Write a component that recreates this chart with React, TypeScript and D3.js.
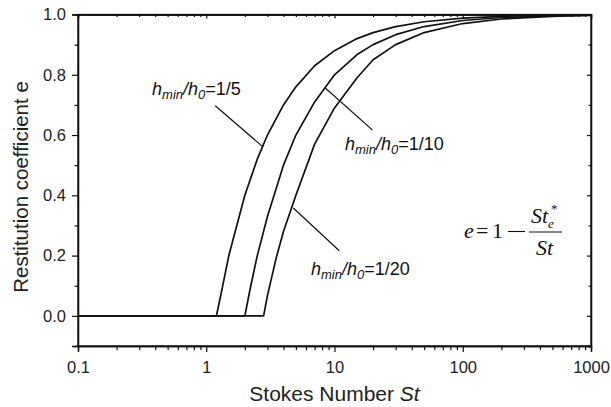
import React, { useRef, useEffect } from 'react';
import * as d3 from 'd3';

// Stokes numbers and restitution coefficient
const stA = [0.1, 1.2, 1.3, 1.5, 2, 2.5, 3, 4, 5, 7, 10, 15, 20, 30, 50, 100, 200, 500, 1000];
const eA = [0, 0, 0.07, 0.2, 0.4, 0.52, 0.6, 0.7, 0.76, 0.83, 0.88, 0.92, 0.94, 0.96, 0.976, 0.988, 0.994, 0.998, 0.999];

const stB = [0.1, 2.0, 2.2, 2.5, 3, 4, 5, 7, 10, 15, 20, 30, 50, 100, 200, 500, 1000];
const eB = [0, 0, 0.09, 0.2, 0.33, 0.5, 0.6, 0.71, 0.8, 0.867, 0.9, 0.933, 0.96, 0.98, 0.99, 0.996, 0.998];

const stC = [0.1, 2.8, 3, 3.5, 4, 5, 7, 10, 15, 20, 30, 50, 100, 200, 500, 1000];
const eC = [0, 0, 0.067, 0.19, 0.28, 0.4, 0.57, 0.69, 0.79, 0.85, 0.9, 0.94, 0.97, 0.985, 0.994, 0.997];

const xTicks = [0.1, 1, 10, 100, 1000];
const xTickLabels = ['0.1', '1', '10', '100', '1000'];
const yTicks = [0, 0.2, 0.4, 0.6, 0.8, 1.0];

const series = [
  { st: stA, e: eA, ratio: '1/5' },
  { st: stB, e: eB, ratio: '1/10' },
  { st: stC, e: eC, ratio: '1/20' },
];

// annotation anchors in data units: [St on curve, e on curve, St at label end, e at label end]
const leaders: [number, number, number, number][] = [
  [2.78, 0.56, 1.176, 0.697],
  [8.47, 0.756, 19.7, 0.617],
  [4.77, 0.358, 10.9, 0.216],
];
// label text start [St, e] (baseline)
const labelPos: [number, number][] = [[0.378, 0.733], [12.08, 0.55], [6.56, 0.136]];

const W = 611, H = 407;
const m = { left: 78, right: 20, top: 14.5, bottom: 61 };
const FONT = '"Liberation Sans", Arial, sans-serif';
const SERIF = '"Liberation Serif", "Times New Roman", serif';

export default function App() {
  const svgRef = useRef<SVGSVGElement>(null);

  useEffect(() => {
    const svg = d3.select(svgRef.current);
    svg.selectAll('*').remove();

    const x = d3.scaleLog().domain([0.1, 1000]).range([m.left, W - m.right]);
    const y = d3.scaleLinear().domain([-0.1, 1.0]).range([H - m.bottom, m.top]);

    const minor: number[] = [];
    for (let d = 0.1; d < 1000; d *= 10) for (let k = 2; k <= 9; k++) minor.push(d * k);
    const yMinor = [0.9, 0.7, 0.5, 0.3, 0.1];

    const g = svg.append('g').attr('font-family', FONT);
    const stroke = '#111';

    g.append('rect')
      .attr('x', m.left).attr('y', m.top)
      .attr('width', W - m.left - m.right).attr('height', H - m.top - m.bottom)
      .attr('fill', 'none').attr('stroke', stroke).attr('stroke-width', 1.3);

    // bottom axis
    const bottom = g.append('g').attr('transform', `translate(0,${H - m.bottom})`);
    bottom.call(d3.axisBottom(x).tickValues(xTicks).tickFormat((d, i) => xTickLabels[i]).tickSize(6).tickPadding(9));
    bottom.append('g').call(d3.axisBottom(x).tickValues(minor).tickFormat(() => '').tickSize(4));
    // top mirror (inward)
    const top = g.append('g').attr('transform', `translate(0,${m.top})`);
    top.call(d3.axisBottom(x).tickValues(xTicks).tickFormat(() => '').tickSize(4));
    top.append('g').call(d3.axisBottom(x).tickValues(minor).tickFormat(() => '').tickSize(2.5));

    // left axis
    const left = g.append('g').attr('transform', `translate(${m.left},0)`);
    left.call(d3.axisLeft(y).tickValues(yTicks).tickFormat(d3.format('.1f')).tickSize(6).tickPadding(6));
    left.append('g').call(d3.axisLeft(y).tickValues(yMinor).tickFormat(() => '').tickSize(3.5));
    // right mirror (inward)
    const right = g.append('g').attr('transform', `translate(${W - m.right},0)`);
    right.call(d3.axisLeft(y).tickValues(yTicks).tickFormat(() => '').tickSize(4));
    right.append('g').call(d3.axisLeft(y).tickValues(yMinor).tickFormat(() => '').tickSize(2.5));

    g.selectAll('.domain').attr('stroke', stroke).attr('stroke-width', 1.3);
    g.selectAll('.tick line').attr('stroke', stroke).attr('stroke-width', 1.2);
    g.selectAll('.tick text').attr('font-family', FONT).attr('font-size', 16.5).attr('fill', '#222');

    // curves
    const line = d3.line<[number, number]>().x(d => x(d[0])).y(d => y(d[1]));
    series.forEach(s => {
      const pts = s.st.map((v, i) => [v, s.e[i]] as [number, number]);
      g.append('path').datum(pts)
        .attr('fill', 'none').attr('stroke', stroke).attr('stroke-width', 1.7)
        .attr('stroke-linejoin', 'round')
        .attr('d', line);
    });

    leaders.forEach(l => {
      g.append('line')
        .attr('x1', x(l[0])).attr('y1', y(l[1]))
        .attr('x2', x(l[2])).attr('y2', y(l[3]))
        .attr('stroke', stroke).attr('stroke-width', 1.2);
    });

    series.forEach((s, i) => {
      const t = g.append('text')
        .attr('x', x(labelPos[i][0])).attr('y', y(labelPos[i][1]))
        .attr('font-size', 18).attr('fill', '#111');
      t.append('tspan').attr('font-style', 'italic').text('h');
      t.append('tspan').attr('font-style', 'italic').attr('font-size', 13).attr('dy', 4).text('min');
      t.append('tspan').attr('font-style', 'italic').attr('dy', -4).text('/h');
      t.append('tspan').attr('font-style', 'italic').attr('font-size', 13).attr('dy', 4).text('0');
      t.append('tspan').attr('dy', -4).text('=' + s.ratio);
    });

    // formula e = 1 - St_e^* / St
    const f = g.append('g').attr('font-family', SERIF).attr('fill', '#111').attr('font-size', 22);
    f.append('text').attr('x', 464).attr('y', 238).attr('font-style', 'italic').text('e');
    f.append('text').attr('x', 476).attr('y', 238).text('=');
    f.append('text').attr('x', 492).attr('y', 238).text('1');
    f.append('line').attr('x1', 508).attr('x2', 525).attr('y1', 231.5).attr('y2', 231.5)
      .attr('stroke', stroke).attr('stroke-width', 1.1);
    f.append('text').attr('x', 531).attr('y', 223).attr('font-style', 'italic').text('St');
    f.append('text').attr('x', 548).attr('y', 228).attr('font-style', 'italic').attr('font-size', 13).text('e');
    f.append('text').attr('x', 551).attr('y', 213).attr('font-size', 13).text('*');
    f.append('line').attr('x1', 529).attr('x2', 562).attr('y1', 232).attr('y2', 232)
      .attr('stroke', stroke).attr('stroke-width', 1.1);
    f.append('text').attr('x', 536).attr('y', 255).attr('font-style', 'italic').text('St');

    // axis titles
    g.append('text')
      .attr('x', (m.left + W - m.right) / 2).attr('y', 401)
      .attr('text-anchor', 'middle').attr('font-size', 21).attr('fill', '#222')
      .html('Stokes Number <tspan font-style="italic">St</tspan>');
    g.append('text')
      .attr('transform', `translate(28,187) rotate(-90)`)
      .attr('text-anchor', 'middle').attr('font-size', 20.5).attr('fill', '#222')
      .text('Restitution coefficient e');
  }, []);

  return (
    <svg ref={svgRef} width={W} height={H}
      style={{ position: 'absolute', left: 0, top: 0, background: '#fff' }} />
  );
}
